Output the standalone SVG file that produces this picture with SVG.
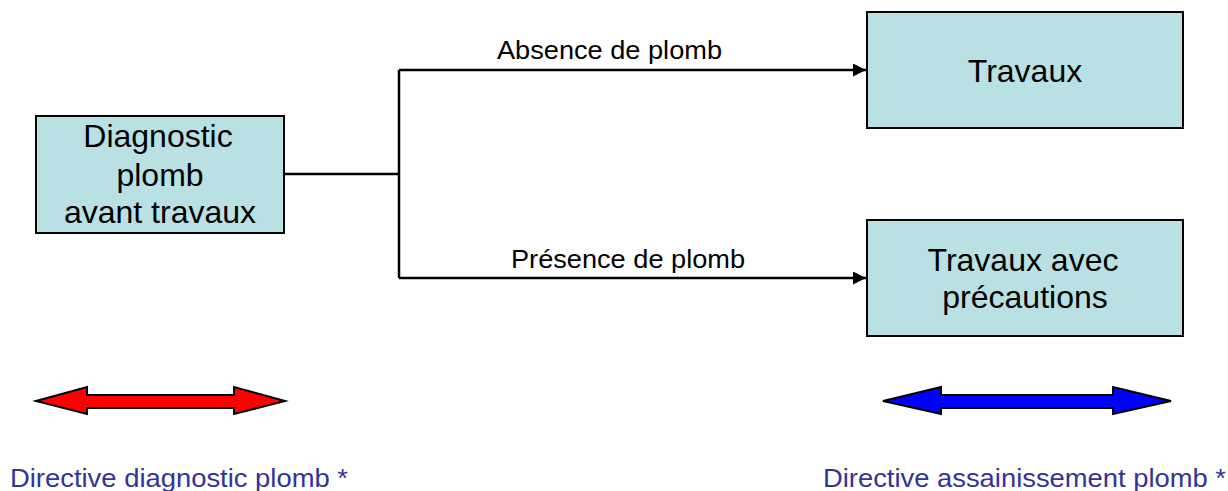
<svg xmlns="http://www.w3.org/2000/svg" width="1228" height="491" viewBox="0 0 1228 491">
<defs>
<style>
.box{fill:#b9e0e2;stroke:#000;stroke-width:2}
.t{font-family:"Liberation Sans",Arial,sans-serif;font-size:32px;fill:#000;text-anchor:middle}
.lbl{font-family:"Liberation Sans",Arial,sans-serif;font-size:26px;fill:#000}
.dir{font-family:"Liberation Sans",Arial,sans-serif;font-size:26px;fill:#333399}
.ln{fill:none;stroke:#000;stroke-width:2.5}
</style>
<marker id="ah" viewBox="0 0 10 10" refX="10" refY="5" markerWidth="13" markerHeight="13" markerUnits="userSpaceOnUse" orient="auto"><path d="M0,0 L10,5 L0,10 Z" fill="#000"/></marker>
</defs>
<rect width="1228" height="491" fill="#fff"/>
<g id="connectors">
<path class="ln" d="M284,174 H399"/>
<path class="ln" d="M399,70 V278"/>
<path class="ln" d="M399,70 H866" marker-end="url(#ah)"/>
<path class="ln" d="M399,278 H866" marker-end="url(#ah)"/>
<text class="lbl" x="497" y="59" textLength="225" lengthAdjust="spacingAndGlyphs">Absence de plomb</text>
<text class="lbl" x="511" y="268" textLength="234" lengthAdjust="spacingAndGlyphs">Présence de plomb</text>
</g>
<g id="diag">
<rect class="box" x="36" y="116" width="248" height="117"/>
<text class="t" x="158" y="147">Diagnostic</text>
<text class="t" x="160" y="186">plomb</text>
<text class="t" x="160" y="223">avant travaux</text>
</g>
<g id="travaux">
<rect class="box" x="867" y="12" width="316" height="116"/>
<text class="t" x="1025" y="82">Travaux</text>
</g>
<g id="travaux-precautions">
<rect class="box" x="867" y="220" width="316" height="116"/>
<text class="t" x="1023" y="271">Travaux avec</text>
<text class="t" x="1025" y="308">précautions</text>
</g>
<g id="arrow-red">
<path d="M36,401 L87,387 V395 H234 V387 L285,401 L234,414 V408 H87 V414 Z" fill="#ff0000" stroke="#000" stroke-width="2"/>
</g>
<g id="arrow-blue">
<path d="M883,401 L941,387 V395 H1113 V387 L1171,401 L1113,414 V408 H941 V414 Z" fill="#0000ff" stroke="#000" stroke-width="2"/>
</g>
<g id="labels">
<text class="dir" x="10" y="487" textLength="338" lengthAdjust="spacingAndGlyphs">Directive diagnostic plomb *</text>
<text class="dir" x="823" y="487" textLength="403" lengthAdjust="spacingAndGlyphs">Directive assainissement plomb *</text>
</g>
</svg>
